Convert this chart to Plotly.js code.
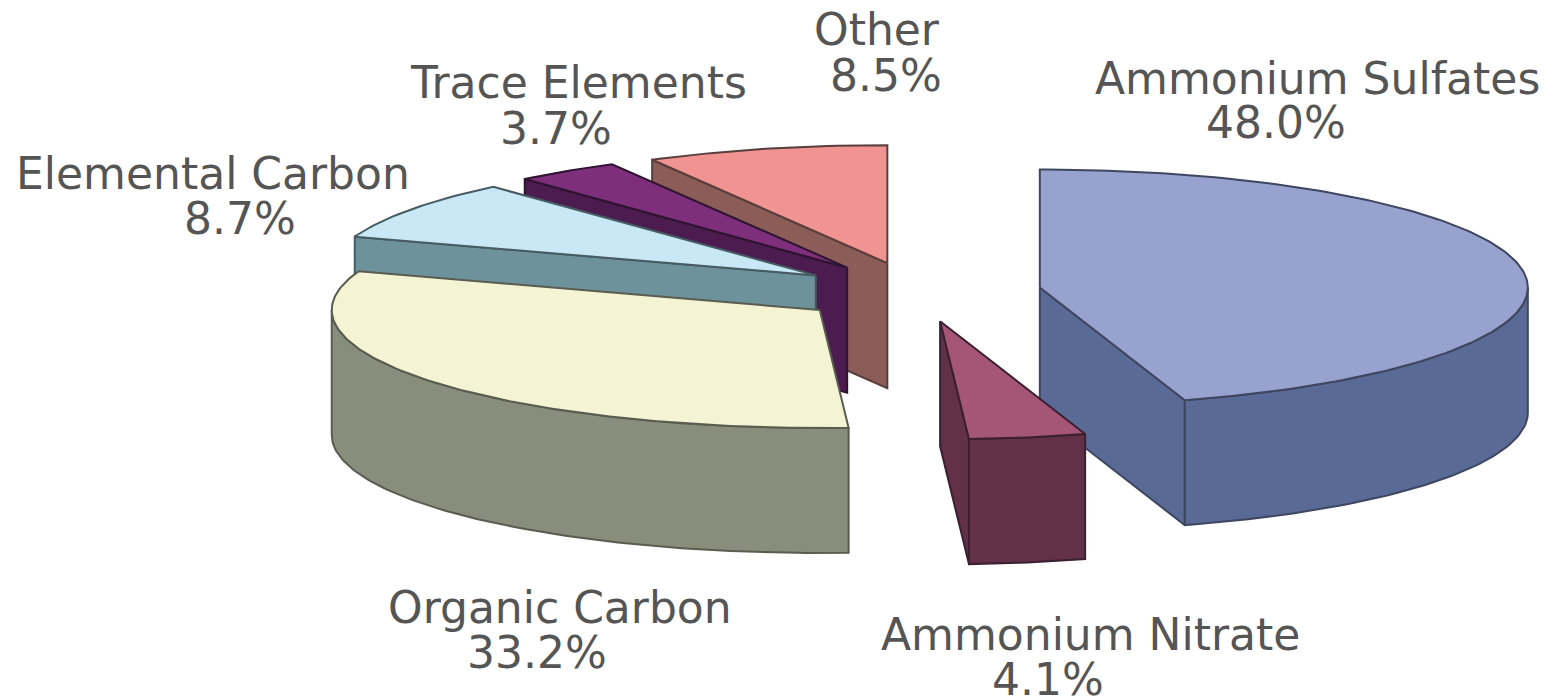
<!DOCTYPE html>
<html>
<head>
<meta charset="utf-8">
<script src="https://cdn.plot.ly/plotly-3.0.1.min.js"></script>
<style>html,body{margin:0;padding:0;background:#fff}#chart{width:1550px;height:697px}</style>
</head>
<body>
<div id="chart"></div>
<script>
// Composition shares, clockwise from twelve o'clock
const categories = ['Ammonium Sulfates', 'Ammonium Nitrate', 'Organic Carbon', 'Elemental Carbon', 'Trace Elements', 'Other'];
const shares = [48.0, 4.1, 33.2, 8.7, 3.7, 8.5];

// Colours of each slice: upper surface, sides, outline
const topColours = ['#98A2CF', '#A45578', '#F4F3D4', '#C9E8F6', '#7E2F7C', '#F19491'];
const sideColours = ['#5A6A96', '#63304A', '#898D7B', '#6E929C', '#4C1C50', '#8C5C59'];
const edgeColours = ['#3F4660', '#3A2030', '#5A5C50', '#465C62', '#2E1430', '#583E3C'];

// Label anchors: the name and value rows are centred independently
const nameX = [1317, 1090, 560, 213, 578, 877];
const nameY = [78, 634, 607, 173, 82, 29];
const valueX = [1276, 1048, 537, 240, 556, 886];
const valueY = [122, 679, 652, 218, 128, 75];

// Projection of the tilted disc onto the page
const centre = {x: 918, y: 292};
const radius = {x: 488, y: 118};
const pull = 0.2525;
const depth = 125;
const arcStep = 1;

// Far slices are painted first so nearer ones overlap them
const paintOrder = [5, 4, 3, 2, 0, 1];

const total = shares.reduce((a, b) => a + b, 0);
const rad = d => d * Math.PI / 180;

function rimPoint(c, deg, drop) {
  return [c.x + radius.x * Math.sin(rad(deg)), c.y - radius.y * Math.cos(rad(deg)) + drop];
}

function arc(c, from, to, drop) {
  const pts = [];
  const n = Math.max(2, Math.ceil(Math.abs(to - from) / arcStep));
  for (let i = 0; i <= n; i++) pts.push(rimPoint(c, from + (to - from) * i / n, drop));
  return pts;
}

function polygon(pts, fill, edge) {
  const closed = pts.concat([pts[0]]);
  return {
    type: 'scatter', mode: 'lines', fill: 'toself',
    x: closed.map(p => p[0]), y: closed.map(p => p[1]),
    fillcolor: fill, line: {color: edge, width: 2},
    hoverinfo: 'skip', showlegend: false
  };
}

const traces = [];
let cumulative = 0;
const slices = shares.map((s, i) => {
  const start = cumulative / total * 360;
  cumulative += s;
  return {i, start, end: cumulative / total * 360};
});

paintOrder.forEach(idx => {
  const {i, start, end} = slices[idx];
  const mid = (start + end) / 2;
  const apex = {
    x: centre.x + radius.x * pull * Math.sin(rad(mid)),
    y: centre.y - radius.y * pull * Math.cos(rad(mid))
  };
  const apexTop = [apex.x, apex.y];
  const apexLow = [apex.x, apex.y + depth];

  // Cut faces turned towards the viewer
  if (Math.sin(rad(start)) < -1e-6) {
    traces.push(polygon([apexTop, rimPoint(apex, start, 0), rimPoint(apex, start, depth), apexLow], sideColours[i], edgeColours[i]));
  }
  if (Math.sin(rad(end)) > 1e-6) {
    traces.push(polygon([apexTop, rimPoint(apex, end, 0), rimPoint(apex, end, depth), apexLow], sideColours[i], edgeColours[i]));
  }

  // Curved wall on the near half of the disc
  const wallFrom = Math.max(start, 90);
  const wallTo = Math.min(end, 270);
  if (wallTo > wallFrom) {
    traces.push(polygon(arc(apex, wallFrom, wallTo, 0).concat(arc(apex, wallTo, wallFrom, depth)), sideColours[i], edgeColours[i]));
  }

  // Upper surface
  traces.push(polygon([apexTop].concat(arc(apex, start, end, 0)), topColours[i], edgeColours[i]));
});

const labelFont = {family: '"DejaVu Sans", Verdana, sans-serif', size: 44, color: '#555555'};
const annotations = [];
categories.forEach((name, i) => {
  annotations.push({x: nameX[i], y: nameY[i], xref: 'x', yref: 'y', text: name, showarrow: false,
    xanchor: 'center', yanchor: 'middle', font: labelFont});
  annotations.push({x: valueX[i], y: valueY[i], xref: 'x', yref: 'y', text: shares[i].toFixed(1) + '%', showarrow: false,
    xanchor: 'center', yanchor: 'middle', font: labelFont});
});

const hiddenAxis = {visible: false, showgrid: false, zeroline: false, fixedrange: true};
const layout = {
  width: 1550, height: 697,
  margin: {l: 0, r: 0, t: 0, b: 0},
  paper_bgcolor: '#ffffff', plot_bgcolor: '#ffffff',
  showlegend: false,
  xaxis: Object.assign({range: [0, 1550]}, hiddenAxis),
  yaxis: Object.assign({range: [697, 0]}, hiddenAxis),
  annotations
};

Plotly.newPlot('chart', traces, layout, {displayModeBar: false, staticPlot: true});
</script>
</body>
</html>
